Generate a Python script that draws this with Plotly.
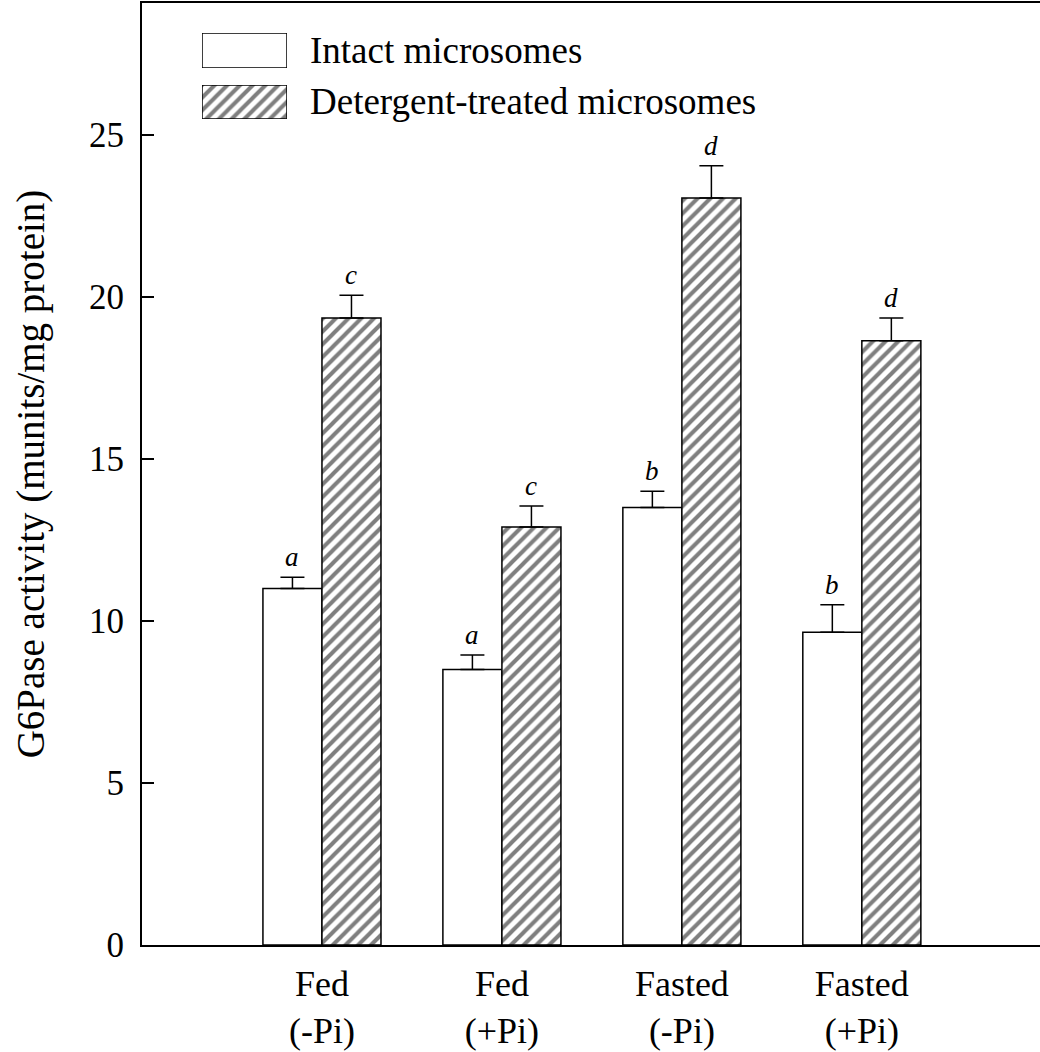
import plotly.graph_objects as go

categories = ["Fed<br>(-Pi)", "Fed<br>(+Pi)", "Fasted<br>(-Pi)", "Fasted<br>(+Pi)"]
intact = [11.0, 8.5, 13.5, 9.65]
intact_err = [0.35, 0.45, 0.5, 0.85]
detergent = [19.35, 12.9, 23.05, 18.65]
detergent_err = [0.7, 0.65, 1.0, 0.7]
intact_letters = ["a", "a", "b", "b"]
detergent_letters = ["c", "c", "d", "d"]
series_names = ["Intact microsomes", "Detergent-treated microsomes"]
y_ticks = [0, 5, 10, 15, 20, 25]

FONT = '"Liberation Serif", "Times New Roman", Times, serif'
BAR_PX = 59  # approximate pixel width of one bar
HATCH = dict(shape="/", fgcolor="black", bgcolor="white", size=9, solidity=0.45)
OUTLINE = dict(color="black", width=1.5)

fig = go.Figure()
fig.add_trace(go.Bar(
    x=categories, y=intact, name=series_names[0],
    marker=dict(color="white", line=OUTLINE),
    error_y=dict(type="data", array=intact_err, arrayminus=[0] * 4, symmetric=False,
                 color="black", thickness=1.5, width=12),
    showlegend=False,
))
fig.add_trace(go.Bar(
    x=categories, y=detergent, name=series_names[1],
    marker=dict(color="white", line=OUTLINE, pattern=HATCH),
    error_y=dict(type="data", array=detergent_err, arrayminus=[0] * 4, symmetric=False,
                 color="black", thickness=1.5, width=12),
    showlegend=False,
))

# significance letters
for i, c in enumerate(categories):
    fig.add_annotation(x=c, y=intact[i] + intact_err[i], text="<i>%s</i>" % intact_letters[i],
                       showarrow=False, yanchor="bottom", yshift=3, xshift=-BAR_PX / 2,
                       font=dict(family=FONT, size=27, color="black"))
    fig.add_annotation(x=c, y=detergent[i] + detergent_err[i], text="<i>%s</i>" % detergent_letters[i],
                       showarrow=False, yanchor="bottom", yshift=3, xshift=BAR_PX / 2,
                       font=dict(family=FONT, size=27, color="black"))

W, H = 1040, 1052
ml, mr, mt, mb = 142, 0, 3, 107
pw, ph = W - ml - mr, H - mt - mb


def px_x(px):
    return (px - ml) / pw


def px_y(py):
    return 1 - (py - mt) / ph


# custom legend patches on small overlay axes
fig.add_trace(go.Bar(x=[0], y=[1], width=[1], xaxis="x2", yaxis="y2",
                     marker=dict(color="white", line=OUTLINE), showlegend=False, hoverinfo="skip"))
fig.add_trace(go.Bar(x=[0], y=[1], width=[1], xaxis="x3", yaxis="y3",
                     marker=dict(color="white", line=OUTLINE, pattern=HATCH), showlegend=False, hoverinfo="skip"))

legend_axis = dict(range=[-0.5, 0.5], visible=False, fixedrange=True)
legend_yaxis = dict(range=[0, 1], visible=False, fixedrange=True)

fig.update_layout(
    width=W, height=H,
    margin=dict(l=ml, r=mr, t=mt, b=mb),
    paper_bgcolor="white", plot_bgcolor="white",
    barmode="group", bargap=0.344, bargroupgap=0,
    font=dict(family=FONT, color="black", size=36),
    xaxis=dict(
        type="category", range=[-1.0, 3.99],
        showline=True, linecolor="black", linewidth=2, mirror=True,
        ticks="", showgrid=False, zeroline=False,
        tickfont=dict(family=FONT, size=36, color="black"),
        ticklabelstandoff=6,
    ),
    yaxis=dict(
        range=[0, 29.07], tickvals=y_ticks,
        showline=True, linecolor="black", linewidth=2, mirror=False,
        ticks="inside", ticklen=12, tickwidth=1.5, tickcolor="black",
        showgrid=False, zeroline=False,
        tickfont=dict(family=FONT, size=35, color="black"),
        ticklabelstandoff=9,
        title=dict(text="G6Pase activity (munits/mg protein)",
                   font=dict(family=FONT, size=39, color="black"), standoff=32),
    ),
    xaxis2=dict(legend_axis, domain=[px_x(202), px_x(287)], anchor="y2"),
    yaxis2=dict(legend_yaxis, domain=[px_y(68), px_y(33)], anchor="x2"),
    xaxis3=dict(legend_axis, domain=[px_x(202), px_x(287)], anchor="y3"),
    yaxis3=dict(legend_yaxis, domain=[px_y(119), px_y(85)], anchor="x3"),
)

fig.add_annotation(xref="paper", yref="paper", x=px_x(308), y=px_y(50.5), xanchor="left", yanchor="middle",
                   text=series_names[0], showarrow=False, font=dict(family=FONT, size=37, color="black"))
fig.add_annotation(xref="paper", yref="paper", x=px_x(308), y=px_y(102), xanchor="left", yanchor="middle",
                   text=series_names[1], showarrow=False, font=dict(family=FONT, size=37, color="black"))

fig.write_html("out.html", config={"displayModeBar": False},
               post_script="document.body.style.margin='0';document.body.style.overflow='hidden';")
